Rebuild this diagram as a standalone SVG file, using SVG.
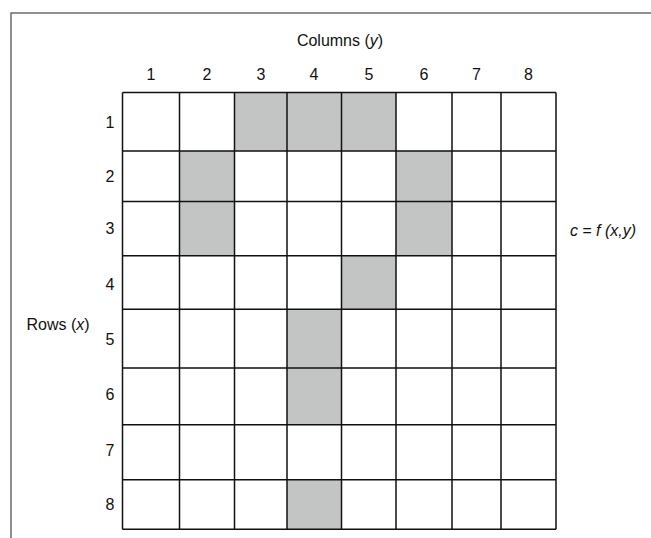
<svg xmlns="http://www.w3.org/2000/svg" width="651" height="538" viewBox="0 0 651 538">
<style>
.t{font-family:"Liberation Sans",Arial,sans-serif;font-size:16px;fill:#111;text-anchor:middle}
.sh{fill:#c3c4c4;stroke:none}
.gl{stroke:#111;stroke-width:1.5;fill:none}
</style>
<rect x="0" y="0" width="651" height="538" fill="#fff"/>
<rect x="11" y="13" width="700" height="600" fill="none" stroke="#555" stroke-width="1.3"/>
<g id="shaded">
<rect class="sh" x="234.5" y="92.5" width="161.5" height="58.5"/>
<rect class="sh" x="179.5" y="151" width="55" height="104.7"/>
<rect class="sh" x="396" y="151" width="56" height="104.7"/>
<rect class="sh" x="341.5" y="255.7" width="54.5" height="53.6"/>
<rect class="sh" x="287" y="309.3" width="54.5" height="115.4"/>
<rect class="sh" x="287" y="479.7" width="54.5" height="49.6"/>
</g>
<g id="grid" class="gl">
<path d="M122.5 92.5V529.3M179.5 92.5V529.3M234.5 92.5V529.3M287 92.5V529.3M341.5 92.5V529.3M396 92.5V529.3M452 92.5V529.3M501 92.5V529.3M556 92.5V529.3"/>
<path d="M122.5 92.5H556M122.5 151H556M122.5 201.5H556M122.5 255.7H556M122.5 309.3H556M122.5 368H556M122.5 424.7H556M122.5 479.7H556M122.5 529.3H556"/>
</g>
<g id="labels">
<text class="t" x="340" y="46">Columns (<tspan font-style="italic">y</tspan>)</text>
<text class="t" x="151" y="80">1</text>
<text class="t" x="207" y="80">2</text>
<text class="t" x="261" y="80">3</text>
<text class="t" x="314" y="80">4</text>
<text class="t" x="369" y="80">5</text>
<text class="t" x="424" y="80">6</text>
<text class="t" x="476.5" y="80">7</text>
<text class="t" x="528.5" y="80">8</text>
<text class="t" x="110" y="128">1</text>
<text class="t" x="110" y="182">2</text>
<text class="t" x="110" y="234">3</text>
<text class="t" x="110" y="290">4</text>
<text class="t" x="110" y="345">5</text>
<text class="t" x="110" y="400">6</text>
<text class="t" x="110" y="456">7</text>
<text class="t" x="110" y="510">8</text>
<text class="t" x="58" y="330">Rows (<tspan font-style="italic">x</tspan>)</text>
<text class="t" x="603" y="236" font-style="italic">c = f (x,y)</text>
</g>
</svg>
